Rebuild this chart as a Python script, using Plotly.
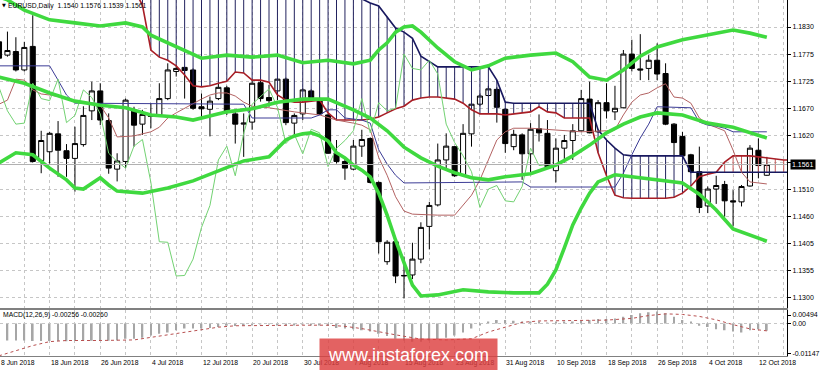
import plotly.graph_objects as go

# ---------------- data ----------------
date_tick_idx = [0, 6, 12, 18, 24, 30, 36, 42, 48, 54, 60, 66, 72, 78, 84, 90]
date_tick_text = ["8 Jun 2018", "18 Jun 2018", "26 Jun 2018", "4 Jul 2018", "12 Jul 2018",
                  "20 Jul 2018", "30 Jul 2018", "7 Aug 2018", "15 Aug 2018", "23 Aug 2018",
                  "31 Aug 2018", "10 Sep 2018", "18 Sep 2018", "26 Sep 2018", "4 Oct 2018",
                  "12 Oct 2018"]

price_tick_vals = [1.1830, 1.1777, 1.1724, 1.1671, 1.1618, 1.1565, 1.1512, 1.1459, 1.1406, 1.1353, 1.1300]
price_tick_text = ["1.1830", "1.1775", "1.1725", "1.1670", "1.1620", "", "1.1510", "1.1460", "1.1405", "1.1355", "1.1300"]

macd_tick_vals = [0.0030, 0.0, -0.0105]
macd_tick_text = ["0.00494", "0.00", "-0.01147"]

open_ = [1.1801, 1.1775, 1.1782, 1.1746, 1.1792, 1.1569, 1.1586, 1.1621, 1.1588, 1.1573,
         1.1600, 1.1666, 1.1705, 1.1647, 1.1552, 1.1567, 1.1666, 1.1640, 1.1658, 1.1658,
         1.1690, 1.1743, 1.1751, 1.1746, 1.1674, 1.1669, 1.1690, 1.1711, 1.1660, 1.1640,
         1.1644, 1.1721, 1.1692, 1.1705, 1.1728, 1.1642, 1.1660, 1.1705, 1.1687, 1.1658,
         1.1584, 1.1567, 1.1552, 1.1597, 1.1612, 1.1526, 1.1371, 1.1410, 1.1343, 1.1345,
         1.1376, 1.1440, 1.1482, 1.1570, 1.1596, 1.1541, 1.1621, 1.1679, 1.1696, 1.1708,
         1.1669, 1.1596, 1.1619, 1.1582, 1.1631, 1.1622, 1.1549, 1.1593, 1.1608, 1.1627,
         1.1689, 1.1625, 1.1682, 1.1664, 1.1672, 1.1777, 1.1748, 1.1749, 1.1765, 1.1739,
         1.1640, 1.1616, 1.1580, 1.1547, 1.1480, 1.1513, 1.1522, 1.1490, 1.1488, 1.1519,
         1.1589, 1.1540]
high = [1.1821, 1.1821, 1.1810, 1.1801, 1.1853, 1.1627, 1.1625, 1.1646, 1.1601, 1.1635,
        1.1675, 1.1723, 1.1720, 1.1661, 1.1583, 1.1690, 1.1674, 1.1668, 1.1681, 1.1720,
        1.1759, 1.1756, 1.1752, 1.1749, 1.1700, 1.1694, 1.1720, 1.1715, 1.1664, 1.1661,
        1.1726, 1.1726, 1.1717, 1.1730, 1.1731, 1.1661, 1.1710, 1.1708, 1.1692, 1.1661,
        1.1609, 1.1573, 1.1609, 1.1629, 1.1614, 1.1528, 1.1413, 1.1413, 1.1381, 1.1408,
        1.1448, 1.1488, 1.1602, 1.1622, 1.1597, 1.1640, 1.1681, 1.1700, 1.1715, 1.1712,
        1.1671, 1.1629, 1.1622, 1.1642, 1.1659, 1.1648, 1.1612, 1.1619, 1.1640, 1.1707,
        1.1723, 1.1687, 1.1720, 1.1715, 1.1785, 1.1805, 1.1816, 1.1775, 1.1798, 1.1759,
        1.1642, 1.1625, 1.1582, 1.1596, 1.1518, 1.1539, 1.1529, 1.1511, 1.1521, 1.1599,
        1.1612, 1.1576]
low = [1.1765, 1.1772, 1.1743, 1.1743, 1.1565, 1.1544, 1.1563, 1.1537, 1.1537, 1.1508,
       1.1596, 1.1648, 1.1638, 1.1543, 1.1528, 1.1554, 1.1596, 1.1619, 1.1632, 1.1655,
       1.1687, 1.1733, 1.1690, 1.1668, 1.1651, 1.1616, 1.1687, 1.1658, 1.1602, 1.1576,
       1.1629, 1.1684, 1.1674, 1.1687, 1.1638, 1.1619, 1.1648, 1.1687, 1.1658, 1.1582,
       1.1563, 1.1531, 1.1550, 1.1576, 1.1524, 1.1387, 1.1365, 1.1329, 1.1299, 1.1337,
       1.1368, 1.1395, 1.1479, 1.1554, 1.1537, 1.1539, 1.1596, 1.1675, 1.1694, 1.1643,
       1.1584, 1.1589, 1.1531, 1.1544, 1.1606, 1.1554, 1.1526, 1.1565, 1.1570, 1.1625,
       1.1622, 1.1623, 1.1651, 1.1648, 1.1671, 1.1743, 1.1726, 1.1726, 1.1726, 1.1638,
       1.1576, 1.1576, 1.1544, 1.1466, 1.1466, 1.1484, 1.1459, 1.1440, 1.1479, 1.1518,
       1.1534, 1.1539]
close = [1.1769, 1.1784, 1.1746, 1.1790, 1.1567, 1.1608, 1.1622, 1.1589, 1.1573, 1.1602,
         1.1657, 1.1705, 1.1648, 1.1554, 1.1568, 1.1687, 1.1638, 1.1659, 1.1655, 1.1690,
         1.1746, 1.1749, 1.1745, 1.1671, 1.1670, 1.1685, 1.1712, 1.1666, 1.1640, 1.1642,
         1.1720, 1.1690, 1.1686, 1.1728, 1.1643, 1.1657, 1.1707, 1.1692, 1.1660, 1.1583,
         1.1567, 1.1554, 1.1597, 1.1610, 1.1526, 1.1410, 1.1409, 1.1343, 1.1344, 1.1376,
         1.1438, 1.1481, 1.1570, 1.1597, 1.1539, 1.1622, 1.1679, 1.1695, 1.1709, 1.1673,
         1.1602, 1.1620, 1.1582, 1.1630, 1.1623, 1.1557, 1.1593, 1.1608, 1.1627, 1.1690,
         1.1623, 1.1682, 1.1666, 1.1671, 1.1777, 1.1749, 1.1746, 1.1765, 1.1738, 1.1640,
         1.1604, 1.1578, 1.1547, 1.1477, 1.1513, 1.1520, 1.1490, 1.1488, 1.1518, 1.1593,
         1.1559, 1.1561]

# Bollinger bands (read at sampled bars)
bb_up_idx = [0, 1, 3, 6, 9, 12, 15, 17, 18, 21, 24, 27, 30, 33, 36, 39, 42, 44, 45, 46, 47, 48, 49,
             50, 52, 54, 56, 58, 60, 63, 66, 68, 70, 72, 74, 76, 78, 81, 84, 87, 89, 91]
bb_up = [1.1889, 1.1883, 1.1863, 1.1844, 1.1838, 1.1832, 1.1838, 1.1830, 1.1814, 1.1791, 1.1769,
         1.1775, 1.1771, 1.1775, 1.1760, 1.1765, 1.1758, 1.1765, 1.1785, 1.1799, 1.1820, 1.1830,
         1.1832, 1.1820, 1.1789, 1.1762, 1.1746, 1.1754, 1.1769, 1.1775, 1.1779, 1.1762, 1.1732,
         1.1726, 1.1746, 1.1773, 1.1791, 1.1805, 1.1814, 1.1824, 1.1818, 1.1810]
bb_mid_idx = [0, 3, 6, 9, 12, 15, 18, 21, 23, 25, 27, 30, 33, 36, 39, 42, 44, 46, 48, 50, 52, 54,
              56, 58, 60, 63, 66, 68, 70, 72, 74, 76, 78, 81, 84, 87, 89, 91]
bb_mid = [1.1732, 1.1720, 1.1701, 1.1685, 1.1677, 1.1672, 1.1658, 1.1654, 1.1648, 1.1656, 1.1664,
          1.1670, 1.1683, 1.1689, 1.1689, 1.1668, 1.1652, 1.1627, 1.1595, 1.1574, 1.1558, 1.1545,
          1.1535, 1.1531, 1.1537, 1.1543, 1.1560, 1.1578, 1.1599, 1.1623, 1.1640, 1.1654, 1.1662,
          1.1658, 1.1642, 1.1634, 1.1623, 1.1613]
bb_low_idx = [0, 2, 4, 6, 8, 9, 10, 12, 13, 14, 17, 20, 23, 26, 29, 32, 33, 34, 35, 36, 37, 38, 39,
              40, 41, 42, 43, 44, 45, 46, 47, 48, 49, 50, 52, 55, 58, 61, 64, 65, 66, 67, 68, 69, 70,
              71, 73, 75, 78, 81, 83, 85, 87, 89, 91]
bb_low = [1.1564, 1.1584, 1.1580, 1.1554, 1.1531, 1.1515, 1.1513, 1.1535, 1.1521, 1.1509, 1.1505,
          1.1515, 1.1529, 1.1548, 1.1568, 1.1576, 1.1592, 1.1609, 1.1617, 1.1621, 1.1623, 1.1617,
          1.1607, 1.1584, 1.1574, 1.1560, 1.1550, 1.1537, 1.1505, 1.1462, 1.1413, 1.1370, 1.1325,
          1.1304, 1.1306, 1.1316, 1.1312, 1.1310, 1.1310, 1.1327, 1.1355, 1.1398, 1.1443, 1.1476,
          1.1505, 1.1527, 1.1541, 1.1537, 1.1531, 1.1525, 1.1503, 1.1472, 1.1435, 1.1423, 1.1411]

# Ichimoku
tenkan_idx = [0, 1, 2, 3, 4, 5, 6, 8, 9, 12, 13, 14, 16, 18, 19, 20, 21, 23, 24, 25, 26, 27, 28, 29,
              30, 32, 35, 38, 40, 42, 43, 44, 45, 46, 47, 48, 49, 52, 54, 56, 57, 58, 59, 60, 61, 63,
              66, 69, 72, 73, 74, 75, 76, 77, 78, 79, 80, 81, 82, 83, 84, 85, 86, 87, 88, 89, 90, 91]
tenkan = [1.1679, 1.1687, 1.1728, 1.1726, 1.1707, 1.1699, 1.1697, 1.1691, 1.1683, 1.1677, 1.1652,
          1.1615, 1.1617, 1.1625, 1.1634, 1.1652, 1.1662, 1.1681, 1.1689, 1.1697, 1.1701, 1.1701,
          1.1695, 1.1683, 1.1675, 1.1672, 1.1664, 1.1658, 1.1648, 1.1642, 1.1638, 1.1629, 1.1575,
          1.1540, 1.1498, 1.1470, 1.1464, 1.1462, 1.1462, 1.1501, 1.1531, 1.1570, 1.1609, 1.1625,
          1.1632, 1.1632, 1.1629, 1.1625, 1.1627, 1.1629, 1.1658, 1.1683, 1.1697, 1.1701, 1.1711,
          1.1719, 1.1693, 1.1691, 1.1681, 1.1652, 1.1640, 1.1634, 1.1627, 1.1589, 1.1546, 1.1527,
          1.1525, 1.1523]
kijun_idx = [0, 6, 7, 8, 9, 29, 30, 37, 38, 39, 40, 41, 43, 44, 45, 46, 47, 48, 62, 63, 73, 74, 75,
             76, 77, 78, 82, 83, 84, 85, 86, 87, 91]
kijun = [1.1754, 1.1754, 1.1726, 1.1697, 1.1681, 1.1679, 1.1652, 1.1652, 1.1658, 1.1668, 1.1668,
         1.1652, 1.1648, 1.1642, 1.1590, 1.1562, 1.1540, 1.1525, 1.1527, 1.1517, 1.1517, 1.1544,
         1.1580, 1.1613, 1.1640, 1.1674, 1.1672, 1.1644, 1.1638, 1.1636, 1.1632, 1.1625, 1.1625]
cloud_idx = list(range(16, 95))
span_a = [1.1903, 1.1873, 1.1785, 1.1771, 1.1765, 1.1754, 1.1736, 1.1715, 1.1713, 1.1715,
          1.1720, 1.1724, 1.1742, 1.1740, 1.1726, 1.1726, 1.1722, 1.1697, 1.1687, 1.1683,
          1.1683, 1.1685, 1.1687, 1.1662, 1.1648, 1.1648, 1.1648, 1.1648, 1.1650, 1.1654,
          1.1662, 1.1670, 1.1675, 1.1687, 1.1691, 1.1693, 1.1693, 1.1691, 1.1689, 1.1681,
          1.1668, 1.1660, 1.1660, 1.1660, 1.1658, 1.1660, 1.1662, 1.1664, 1.1674, 1.1664,
          1.1662, 1.1652, 1.1652, 1.1652, 1.1652, 1.1584, 1.1539, 1.1501, 1.1496, 1.1495,
          1.1495, 1.1495, 1.1495, 1.1495, 1.1497, 1.1505, 1.1519, 1.1537, 1.1542, 1.1546,
          1.1566, 1.1578, 1.1578, 1.1578, 1.1576, 1.1574, 1.1572, 1.1570, 1.1570]
span_b = [1.1962, 1.1962, 1.1962, 1.1962, 1.1962, 1.1962, 1.1962, 1.1962, 1.1962, 1.1962,
          1.1962, 1.1962, 1.1962, 1.1962, 1.1962, 1.1962, 1.1962, 1.1962, 1.1962, 1.1962,
          1.1962, 1.1962, 1.1962, 1.1962, 1.1962, 1.1920, 1.1895, 1.1885, 1.1877, 1.1871,
          1.1850, 1.1828, 1.1820, 1.1808, 1.1773, 1.1762, 1.1752, 1.1752, 1.1752, 1.1752,
          1.1752, 1.1752, 1.1752, 1.1726, 1.1683, 1.1681, 1.1681, 1.1681, 1.1681, 1.1681,
          1.1681, 1.1681, 1.1681, 1.1681, 1.1681, 1.1629, 1.1609, 1.1593, 1.1580, 1.1578,
          1.1578, 1.1578, 1.1578, 1.1578, 1.1578, 1.1578, 1.1546, 1.1546, 1.1546, 1.1546,
          1.1546, 1.1546, 1.1546, 1.1546, 1.1546, 1.1546, 1.1546, 1.1546, 1.1546]
chikou_shift = 26

# MACD (12,26,9)
macd = [-0.0060, -0.0060, -0.0060, -0.0060, -0.0062, -0.0062, -0.0062, -0.0062, -0.0063, -0.0062,
        -0.0061, -0.0061, -0.0061, -0.0061, -0.0060, -0.0054, -0.0054, -0.0050, -0.0042, -0.0036,
        -0.0032, -0.0024, -0.0018, -0.0018, -0.0018, -0.0016, -0.0012, -0.0008, -0.0009, -0.0005,
        -0.0004, -0.0003, -0.0003, -0.0004, -0.0006, -0.0005, -0.0003, -0.0004, -0.0006, -0.0008,
        -0.0016, -0.0018, -0.0020, -0.0024, -0.0028, -0.0036, -0.0044, -0.0054, -0.0060, -0.0064,
        -0.0064, -0.0060, -0.0056, -0.0050, -0.0042, -0.0032, -0.0018, -0.0006, 0.0006, 0.0012,
        0.0012, 0.0010, 0.0006, 0.0006, 0.0004, 0.0002, 0.0004, 0.0005, 0.0006, 0.0010,
        0.0012, 0.0016, 0.0016, 0.0018, 0.0024, 0.0030, 0.0036, 0.0040, 0.0042, 0.0036,
        0.0024, 0.0012, 0.0004, -0.0008, -0.0012, -0.0020, -0.0024, -0.0028, -0.0032, -0.0024,
        -0.0020, -0.00256]
signal_idx = [0, 2, 4, 6, 8, 12, 16, 18, 20, 22, 24, 26, 28, 32, 36, 39, 41, 43, 45, 47, 49, 50,
              53, 56, 58, 60, 62, 64, 68, 72, 75, 77, 79, 81, 83, 85, 87, 89, 91]
signal = [-0.0114, -0.0097, -0.0078, -0.0064, -0.0060, -0.0060, -0.0058, -0.0049, -0.0040, -0.0030,
          -0.0020, -0.0013, -0.0008, -0.0006, -0.0006, -0.0006, -0.0010, -0.0018, -0.0030, -0.0040,
          -0.0050, -0.0055, -0.0058, -0.0054, -0.0030, -0.0012, 0.0004, 0.0009, 0.0010, 0.0012,
          0.0018, 0.0028, 0.0034, 0.0032, 0.0025, 0.0013, -0.0004, -0.0019, -0.00260]

# ---------------- figure ----------------
FONT = "Liberation Sans, Arial, DejaVu Sans, sans-serif"
bars = list(range(len(close)))
x_lo, x_hi = 0.118, 93.39
grid_idx = list(range(0, 95, 3))
main_dom = [1 - 308 / 356, 1]
macd_dom = [0, 46.5 / 356]

fig = go.Figure()

# Kumo hatching
hx_b, hy_b, hx_r, hy_r = [], [], [], []
for i, a, b in zip(cloud_idx, span_a, span_b):
    if b >= a:
        hx_b += [i, i, None]; hy_b += [a, b, None]
    else:
        hx_r += [i, i, None]; hy_r += [b, a, None]
fig.add_trace(go.Scatter(x=hx_b, y=hy_b, mode="lines", line=dict(color="#22225e", width=1),
                         hoverinfo="skip"))
fig.add_trace(go.Scatter(x=hx_r, y=hy_r, mode="lines", line=dict(color="#c85a5a", width=1),
                         hoverinfo="skip"))

# candles
fig.add_trace(go.Candlestick(
    x=bars, open=open_, high=high, low=low, close=close, whiskerwidth=0,
    increasing=dict(line=dict(color="black", width=1), fillcolor="white"),
    decreasing=dict(line=dict(color="black", width=1), fillcolor="black"),
    hoverinfo="skip"))

# Ichimoku lines
fig.add_trace(go.Scatter(x=cloud_idx, y=span_a, mode="lines", line=dict(color="#a81e26", width=1.6)))
fig.add_trace(go.Scatter(x=cloud_idx, y=span_b, mode="lines", line=dict(color="#18185f", width=1.6)))
fig.add_trace(go.Scatter(x=tenkan_idx, y=tenkan, mode="lines", line=dict(color="#b36262", width=1)))
fig.add_trace(go.Scatter(x=kijun_idx, y=kijun, mode="lines", line=dict(color="#3c3c96", width=1)))
fig.add_trace(go.Scatter(x=[i - chikou_shift for i in bars[chikou_shift:]], y=close[chikou_shift:],
                         mode="lines", line=dict(color="#72d272", width=1)))

# Bollinger bands
for xi, yi in ((bb_up_idx, bb_up), (bb_mid_idx, bb_mid), (bb_low_idx, bb_low)):
    fig.add_trace(go.Scatter(x=xi, y=yi, mode="lines", line=dict(color="#3fd93f", width=3.6)))

# MACD
fig.add_trace(go.Bar(x=bars, y=macd, xaxis="x2", yaxis="y2", width=0.2,
                     marker=dict(color="#a6a6a6", line=dict(width=0))))
fig.add_trace(go.Scatter(x=signal_idx, y=signal, xaxis="x2", yaxis="y2", mode="lines",
                         line=dict(color="#b85050", width=1, dash="dot")))

tickfont = dict(family=FONT, size=7, color="black")
fig.update_layout(
    width=820, height=370, margin=dict(l=0, r=30, t=0, b=14),
    paper_bgcolor="white", plot_bgcolor="white", showlegend=False,
    boxgap=0.4, boxgroupgap=0,
    xaxis=dict(domain=[0, 1], range=[x_lo, x_hi], anchor="y", tickvals=grid_idx,
               showticklabels=False, ticks="", showgrid=True, gridcolor="#c6c6c6",
               griddash="dot", gridwidth=1, showline=True, linecolor="#808080", linewidth=2,
               zeroline=False, rangeslider=dict(visible=False)),
    xaxis2=dict(domain=[0, 1], range=[x_lo, x_hi], anchor="y2", matches="x", tickvals=grid_idx,
                showticklabels=False, ticks="", showgrid=True, gridcolor="#c6c6c6",
                griddash="dot", showline=True, mirror=True, linecolor="#808080", linewidth=1,
                zeroline=False),
    yaxis=dict(domain=main_dom, range=[1.12804, 1.18828], side="right", anchor="x",
               tickvals=price_tick_vals, ticktext=price_tick_text, showgrid=True,
               gridcolor="#c6c6c6", griddash="dot", showline=True, linecolor="black",
               linewidth=1, ticks="outside", ticklen=3, tickcolor="black", tickfont=tickfont,
               zeroline=False),
    yaxis2=dict(domain=macd_dom, range=[-0.01147, 0.00494], side="right", anchor="x2",
                tickvals=macd_tick_vals, ticktext=macd_tick_text, showgrid=False,
                showline=True, linecolor="black", linewidth=1, ticks="outside", ticklen=3,
                tickcolor="black", tickfont=tickfont, zeroline=False),
)

# zero level of MACD and bid line
fig.add_shape(type="line", xref="x domain", x0=0, x1=1, yref="y2", y0=0, y1=0,
              line=dict(color="#c6c6c6", width=1, dash="dot"))
fig.add_shape(type="line", xref="x domain", x0=0, x1=1, yref="y", y0=close[-1], y1=close[-1],
              line=dict(color="#b0b0b0", width=1))
fig.add_annotation(x=1, xref="paper", xanchor="left", xshift=3, y=close[-1], yref="y",
                   text=f"{close[-1]:.4f}", showarrow=False, bgcolor="black",
                   font=dict(family=FONT, size=7, color="white"), borderpad=1)

# date labels
for k, lab in zip(date_tick_idx, date_tick_text):
    fig.add_annotation(x=max(k, x_lo), xref="x", y=0, yref="paper", yanchor="top", yshift=-1,
                       xanchor="left", xshift=-1, text=lab, showarrow=False,
                       font=dict(family=FONT, size=6.8, color="black"))

# titles
fig.add_annotation(x=0, xref="paper", xanchor="left", xshift=0, y=1, yref="paper",
                   yanchor="top", yshift=0, text="▼", showarrow=False,
                   font=dict(family="DejaVu Sans", size=5, color="black"))
fig.add_annotation(x=0, xref="paper", xanchor="left", xshift=6, y=1, yref="paper",
                   yanchor="top", yshift=0,
                   text=f"EURUSD,Daily  {open_[-1]:.4f} {high[-1]:.4f} {low[-1]:.4f} {close[-1]:.4f}",
                   showarrow=False, font=dict(family=FONT, size=6.8, color="black"))
fig.add_annotation(x=0, xref="paper", xanchor="left", xshift=1, y=0.1138, yref="paper",
                   yanchor="middle", text=f"MACD(12,26,9) {macd[-1]:.5f} {signal[-1]:.5f}",
                   showarrow=False, font=dict(family=FONT, size=6.8, color="black"))

# watermark (drawn last so it covers the date labels beneath it)
fig.add_annotation(x=410.5 / 790, xref="paper", y=0.0042, yref="paper",
                   xanchor="center", yanchor="middle", width=177, height=31, borderpad=0,
                   bgcolor="rgba(221,64,64,0.82)", text="www.instaforex.com", showarrow=False,
                   font=dict(family=FONT, size=18, color="white"))

fig.write_html("out.html")
